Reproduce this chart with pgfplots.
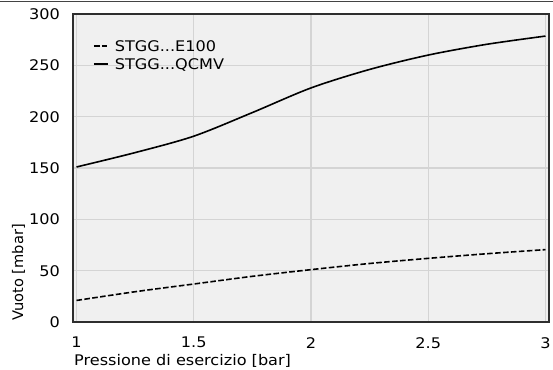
\documentclass[border=0pt]{standalone}
\usepackage{pgfplots}
\pgfplotsset{compat=1.18}
\usepackage{fontspec}
\setmainfont{DejaVu Sans}[FakeStretch=1.1]
\newfontfamily\plainfont{DejaVu Sans}
\definecolor{bgc}{HTML}{F0F0F0}
\definecolor{gridc}{HTML}{D4D4D4}
\definecolor{framec}{HTML}{2E2E2E}
\begin{document}
\fontsize{14.7}{17}\selectfont
\begin{tikzpicture}[x=1bp,y=1bp]
\useasboundingbox (0,0) rectangle (553,369);
\draw[framec!90, line width=1bp] (0,367) -- (553,367);
\begin{axis}[
  at={(73bp,47bp)}, anchor=south west,
  scale only axis, width=476bp, height=308bp,
  xmin=0.985, xmax=3.015, ymin=0, ymax=300,
  xtick={1,1.5,2,2.5,3}, xticklabels={1,1.5,2,2.5,3},
  ytick={0,50,100,150,200,250,300},
  axis background/.style={fill=bgc},
  grid=major, major grid style={gridc, line width=1.3bp},
  axis line style={framec, line width=1.6bp},
  major tick length=0pt,
  /pgf/number format/assume math mode=true,
  tick label style={font=\fontsize{14.7}{17}\selectfont},
  xticklabel style={anchor=north, inner sep=0pt, yshift=-15bp},
  yticklabel style={anchor=east, inner sep=0pt, xshift=-13bp},
  xlabel={Pressione di esercizio [bar]},
  ylabel={\plainfont Vuoto [mbar]},
  xlabel style={font=\fontsize{14.7}{17}\selectfont, at={(axis description cs:0.0021,-0.1396)}, anchor=base west, inner sep=0pt},
  ylabel style={font=\fontsize{14.7}{17}\selectfont, at={(axis description cs:-0.1050,0.0032)}, anchor=base west, inner sep=0pt},
  legend style={draw=none, fill=none, inner sep=0pt, at={(axis description cs:0.042,0.9145)}, anchor=north west,
    font=\fontsize{14.7}{17}\selectfont, row sep=7.6bp, column sep=0pt,
    nodes={inner sep=0pt, text height=10.7bp, text depth=0bp}},
  legend cell align=left,
  legend image code/.code={\draw[#1] (0bp,0bp) -- (14bp,0bp);},
  legend columns=1,
]
\addplot[black, line width=1.6bp, dash pattern=on 5.55bp off 2.4bp, smooth] coordinates {
(1,21) (1.25,29.5) (1.5,37) (1.75,44.5) (2,51) (2.25,57) (2.5,62) (2.75,66.5) (3,70.5)};
\addlegendentry{\hspace{6bp}STGG...E100}
\addplot[black, line width=1.6bp, smooth] coordinates {
(1,151) (1.25,165) (1.5,181) (1.75,204) (2,228) (2.25,246) (2.5,260) (2.75,270.5) (3,278.5)};
\addlegendentry{\hspace{6bp}STGG...QCMV}
\end{axis}
\end{tikzpicture}
\end{document}
